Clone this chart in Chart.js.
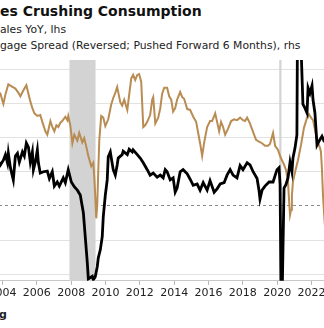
<!DOCTYPE html>
<html lang="en">
<head>
  <meta charset="UTF-8">
  <title>Crushing Consumption</title>
  <script src="https://cdn.jsdelivr.net/npm/chart.js"></script>
  <style>
    html, body {
      margin: 0;
      padding: 0;
      width: 324px;
      height: 328px;
      overflow: hidden;
      background: #fff;
      font-family: 'DejaVu Sans', sans-serif;
    }
    .txt {
      position: absolute;
      white-space: nowrap;
    }
    .title {
      left: 0;
      top: 3px;
      font-size: 14px;
      line-height: 17px;
      font-weight: bold;
      color: #111;
    }
    .sub {
      left: 0;
      font-size: 10.8px;
      line-height: 16px;
      color: #222;
    }
    .src {
      left: -80px;
      width: 87px;
      text-align: right;
      top: 308px;
      font-size: 11px;
      line-height: 13px;
      font-weight: bold;
      color: #222;
    }
    .chart-box {
      position: absolute;
      left: -49px;
      top: 56px;
      width: 412px;
      height: 248px;
    }
  </style>
</head>
<body>
  <div class="txt title">es Crushing Consumption</div>
  <div class="txt sub" style="top:22px">ales YoY, lhs</div>
  <div class="txt sub" style="top:38px">gage Spread (Reversed; Pushed Forward 6 Months), rhs</div>
  <div class="chart-box"><canvas id="chart"></canvas></div>
  <div class="txt src">Bloomberg</div>

  <script>
    // retail sales YoY (%), lhs
    const salesDates = [2003.70, 2003.88, 2004.05, 2004.17, 2004.29, 2004.34, 2004.46, 2004.63, 2004.75, 2004.87, 2004.98,
      2005.16, 2005.27, 2005.39, 2005.51, 2005.62, 2005.74, 2005.80, 2005.91, 2006.03, 2006.09,
      2006.20, 2006.38, 2006.61, 2006.73, 2006.90, 2007.02, 2007.19, 2007.31, 2007.54, 2007.66,
      2007.83, 2008.01, 2008.18, 2008.36, 2008.53, 2008.71, 2008.82, 2008.94, 2009.00, 2009.11,
      2009.23, 2009.29, 2009.40, 2009.52, 2009.58, 2009.70, 2009.81, 2009.87, 2009.99, 2010.10,
      2010.16, 2010.28, 2010.45, 2010.57, 2010.68, 2010.74, 2010.97, 2011.03, 2011.27, 2011.38,
      2011.56, 2011.61, 2011.85, 2012.02, 2012.20, 2012.43, 2012.60, 2012.78, 2013.01, 2013.19,
      2013.36, 2013.48, 2013.59, 2013.77, 2013.94, 2014.06, 2014.17, 2014.35, 2014.52, 2014.76,
      2014.93, 2015.11, 2015.34, 2015.51, 2015.69, 2015.92, 2016.09, 2016.33, 2016.50, 2016.68,
      2016.91, 2017.08, 2017.26, 2017.43, 2017.66, 2017.84, 2018.01, 2018.25, 2018.42, 2018.60,
      2018.83, 2018.94, 2019.00, 2019.12, 2019.29, 2019.53, 2019.76, 2019.99, 2020.11, 2020.17,
      2020.25, 2020.34, 2020.40, 2020.51, 2020.63, 2020.75, 2020.86, 2020.92, 2021.04, 2021.15,
      2021.24, 2021.33, 2021.50, 2021.62, 2021.74, 2021.80, 2021.91, 2022.03, 2022.09, 2022.20,
      2022.32, 2022.38, 2022.49, 2022.61, 2022.73, 2022.80];
    const salesYoY = [6.8, 6.0, 6.7, 7.5, 6.3, 7.7, 5.6, 3.8, 7.3, 7.7, 6.4,
      7.9, 7.3, 9.2, 8.6, 6.4, 7.9, 5.3, 6.4, 8.2, 6.3,
      4.8, 5.0, 5.1, 4.0, 5.0, 2.9, 3.5, 2.9, 4.1, 3.4,
      5.3, 3.5, 2.8, 2.3, 1.6, -1.0, -4.5, -8.3, -10.7, -10.5,
      -10.3, -10.8, -10.4, -8.9, -7.6, -6.4, -4.5, -1.6, 1.6, 3.8,
      7.2, 7.9, 5.3, 4.5, 6.0, 7.0, 7.5, 8.0, 7.5, 8.3,
      7.9, 8.2, 7.5, 7.0, 6.3, 5.3, 4.5, 4.8, 4.2, 4.5,
      4.1, 5.3, 5.0, 3.8, 4.1, 2.0, 2.6, 5.0, 5.3, 4.7,
      3.9, 3.0, 3.2, 2.3, 3.4, 2.3, 3.7, 2.0, 2.5, 3.2,
      3.4, 4.5, 5.3, 4.5, 4.1, 5.9, 5.3, 6.3, 6.0, 5.0,
      4.0, 2.3, 1.0, 2.3, 2.9, 3.5, 3.5, 5.3, 5.6, 3.1,
      -19.5, -6.0, 2.6, 3.1, 4.1, 6.4, 5.0, 7.0, 8.5, 10.4,
      52, 28, 14.9, 14.3, 13.6, 17.3, 16.5, 17.6, 15.5, 13.6,
      8.9, 9.2, 9.7, 10.2, 9.5, 9.4];

    // mortgage spread (%), rhs reversed, pushed forward 6 months
    const spreadDates = [2003.70, 2003.88, 2004.05, 2004.17, 2004.34, 2004.58, 2004.75, 2004.93, 2005.04, 2005.22, 2005.39,
      2005.51, 2005.62, 2005.74, 2005.86, 2006.03, 2006.20, 2006.32, 2006.50, 2006.61, 2006.79,
      2006.90, 2007.02, 2007.14, 2007.25, 2007.37, 2007.48, 2007.66, 2007.78, 2007.83, 2007.95,
      2008.07, 2008.18, 2008.36, 2008.47, 2008.65, 2008.76, 2008.88, 2009.00, 2009.17, 2009.29,
      2009.35, 2009.40, 2009.46, 2009.52, 2009.58, 2009.64, 2009.75, 2009.87, 2009.99, 2010.16,
      2010.33, 2010.45, 2010.57, 2010.68, 2010.86, 2010.97, 2011.09, 2011.27, 2011.38, 2011.50,
      2011.61, 2011.73, 2011.85, 2011.96, 2012.08, 2012.20, 2012.31, 2012.43, 2012.60, 2012.72,
      2012.78, 2012.90, 2013.07, 2013.19, 2013.30, 2013.42, 2013.59, 2013.71, 2013.83, 2013.94,
      2014.06, 2014.17, 2014.35, 2014.47, 2014.58, 2014.76, 2014.93, 2015.11, 2015.28, 2015.40,
      2015.51, 2015.63, 2015.75, 2015.92, 2016.09, 2016.21, 2016.39, 2016.50, 2016.62, 2016.73,
      2016.85, 2016.97, 2017.14, 2017.32, 2017.49, 2017.66, 2017.84, 2018.01, 2018.13, 2018.25,
      2018.42, 2018.60, 2018.77, 2018.94, 2019.12, 2019.29, 2019.47, 2019.58, 2019.76, 2019.88,
      2020.05, 2020.17, 2020.28, 2020.40, 2020.51, 2020.63, 2020.69, 2020.75, 2020.81, 2020.86,
      2020.92, 2021.04, 2021.21, 2021.39, 2021.56, 2021.74, 2021.85, 2021.97, 2022.09, 2022.20,
      2022.38, 2022.49, 2022.55, 2022.61, 2022.67, 2022.73, 2022.78, 2022.85];
    const spreadRev = [1.55, 1.59, 1.71, 1.60, 1.48, 1.51, 1.53, 1.58, 1.62, 1.55, 1.49,
      1.59, 1.68, 1.76, 1.82, 1.85, 1.84, 1.92, 2.03, 2.07, 1.91,
      1.98, 2.03, 1.96, 1.98, 1.93, 1.91, 1.86, 1.90, 1.85, 1.96,
      2.17, 2.07, 2.14, 2.05, 2.16, 2.11, 2.21, 2.32, 2.44, 2.40,
      2.58, 2.78, 3.05, 2.89, 2.48, 2.13, 1.85, 1.87, 1.97, 1.89,
      1.72, 1.64, 1.58, 1.51, 1.69, 1.73, 1.66, 1.78, 1.60, 1.41,
      1.37, 1.43, 1.37, 1.36, 1.45, 1.98, 1.96, 1.92, 1.84, 1.66,
      1.63, 1.94, 1.87, 1.76, 1.59, 1.52, 1.52, 1.62, 1.66, 1.80,
      1.76, 1.66, 1.57, 1.63, 1.65, 1.77, 1.78, 1.86, 1.92, 2.05,
      2.17, 2.32, 2.16, 1.98, 1.91, 1.91, 1.82, 1.92, 2.03, 1.92,
      1.98, 2.07, 2.00, 1.91, 1.89, 1.90, 1.87, 1.90, 1.91, 1.87,
      1.94, 2.04, 2.13, 2.15, 2.17, 2.20, 2.20, 2.18, 2.05, 2.20,
      2.25, 2.32, 2.37, 2.42, 2.48, 2.62, 2.83, 3.01, 2.95, 2.78,
      2.62, 2.51, 2.37, 2.19, 1.99, 1.87, 1.83, 1.87, 1.90, 2.01,
      2.17, 2.22, 2.27, 2.48, 2.78, 2.98, 3.13, 3.20];

    const yearTicks = [2004, 2006, 2008, 2010, 2012, 2014, 2016, 2018, 2020, 2022];
    const lhsGrid = [-10, -5, 0, 5, 10, 15, 20];
    const recessions = [[2007.9, 2009.42], [2020.12, 2020.25]];

    // grey recession bands behind the lines
    const recessionBands = {
      id: 'recessionBands',
      beforeDatasetsDraw(chart) {
        const { ctx, chartArea, scales } = chart;
        ctx.save();
        ctx.fillStyle = '#d3d3d3';
        recessions.forEach(([s, e]) => {
          const x0 = scales.x.getPixelForValue(s);
          const x1 = scales.x.getPixelForValue(e);
          ctx.fillRect(x0, chartArea.top, x1 - x0, chartArea.bottom - chartArea.top);
        });
        ctx.restore();
      }
    };

    const toPoints = (xs, ys) => xs.map((x, i) => ({ x: x, y: ys[i] }));

    new Chart(document.getElementById('chart'), {
      type: 'line',
      data: {
        datasets: [
          {
            label: 'Retail Sales YoY, lhs',
            data: toPoints(salesDates, salesYoY),
            borderColor: '#000',
            borderWidth: 2.8,
            pointRadius: 0,
            tension: 0,
            yAxisID: 'yL'
          },
          {
            label: 'Mortgage Spread (Reversed; Pushed Forward 6 Months), rhs',
            data: toPoints(spreadDates, spreadRev),
            borderColor: '#b88c52',
            borderWidth: 2,
            pointRadius: 0,
            tension: 0,
            yAxisID: 'yR'
          }
        ]
      },
      options: {
        responsive: true,
        maintainAspectRatio: false,
        animation: false,
        layout: { padding: { top: 4, bottom: 2, left: 0, right: 0 } },
        plugins: { legend: { display: false }, tooltip: { enabled: false } },
        scales: {
          x: {
            type: 'linear',
            min: 2001,
            max: 2025,
            afterBuildTicks: s => { s.ticks = yearTicks.map(v => ({ value: v })); },
            grid: { drawOnChartArea: false, drawTicks: true, tickLength: 4, color: '#b5b5b5' },
            border: { display: true, color: '#c8c8c8' },
            ticks: {
              autoSkip: false,
              maxRotation: 0,
              padding: 2,
              color: '#222',
              font: { family: 'DejaVu Sans', size: 11 },
              callback: v => String(v)
            }
          },
          yL: {
            position: 'left',
            min: -10.97,
            max: 21.36,
            afterBuildTicks: s => { s.ticks = lhsGrid.map(v => ({ value: v })); },
            ticks: { display: false },
            grid: {
              drawTicks: false,
              color: c => (c.tick && c.tick.value === 0) ? '#8a8a8a' : '#e2e2e2'
            },
            border: {
              display: false,
              dash: c => (c.tick && c.tick.value === 0) ? [3, 3] : []
            }
          },
          yR: {
            position: 'right',
            reverse: true,
            min: 1.195,
            max: 3.782,
            display: false
          }
        }
      },
      plugins: [recessionBands]
    });
  </script>
</body>
</html>
